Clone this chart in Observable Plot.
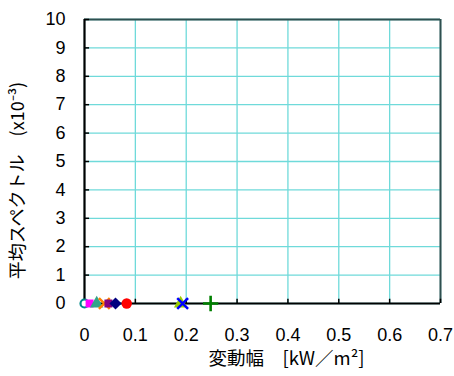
<!DOCTYPE html>
<html>
<head>
<meta charset="utf-8">
<script src="https://cdn.jsdelivr.net/npm/d3@7"></script>
<script src="https://cdn.jsdelivr.net/npm/@observablehq/plot@0.6"></script>
<style>
  html, body { margin: 0; padding: 0; background: #fff; }
  svg { display: block; }
</style>
</head>
<body>
<div id="chart"></div>
<script>
// ---- data ----
const seriesNames = ["S1", "S2", "S3", "S4", "S5", "S6", "S7", "S8", "S9", "S10"];
const xValues = [0.0, 0.010, 0.024, 0.039, 0.047, 0.061, 0.083, 0.189, 0.193, 0.248];
const yValues = [0, 0, 0, 0, 0, 0, 0, 0, 0, 0];
const xTicks = [0, 0.1, 0.2, 0.3, 0.4, 0.5, 0.6, 0.7];
const yTicks = [0, 1, 2, 3, 4, 5, 6, 7, 8, 9, 10];
const xTitle = "変動幅　[kW／m²]";
const yTitle = "平均スペクトル　(x10⁻³)";

// ---- marker styles ----
const markerStyles = {
  S1: {symbol: "circle", fill: "white", stroke: "#008B8B", sw: 2.2, r: 4},
  S2: {symbol: "square", fill: "#FF00FF", stroke: "none", sw: 0, r: 4.5},
  S3: {symbol: "triangle", fill: "#33A38A", stroke: "none", sw: 0, r: 5},
  S4: {symbol: "times", fill: "none", stroke: "#FF8000", sw: 2.5, r: 5},
  S5: {symbol: "square", fill: "#800080", stroke: "none", sw: 0, r: 4.5},
  S6: {symbol: "diamond2", fill: "#000080", stroke: "none", sw: 0, r: 5.5},
  S7: {symbol: "circle", fill: "#FF0000", stroke: "none", sw: 0, r: 5.2},
  S8: {symbol: "triangle", fill: "#99CC00", stroke: "none", sw: 0, r: 5},
  S9: {symbol: "times", fill: "none", stroke: "#0000FF", sw: 2.5, r: 5},
  S10: {symbol: "plus", fill: "none", stroke: "#008000", sw: 2.6, r: 5}
};

const points = seriesNames.map((s, i) => ({series: s, x: xValues[i], y: yValues[i]}));

const gridColor = "#6FDADA";
const numFont = "Liberation Sans, Arial, sans-serif";
const cjkFont = "Noto Sans CJK JP, sans-serif";

const chart = Plot.plot({
  width: 454,
  height: 376,
  marginLeft: 84,
  marginRight: 14,
  marginTop: 19,
  marginBottom: 73,
  style: {fontFamily: numFont, background: "white", overflow: "visible"},
  x: {domain: [0, 0.7], ticks: xTicks},
  y: {domain: [0, 10], ticks: yTicks},
  marks: [
    Plot.gridX(xTicks, {stroke: gridColor, strokeOpacity: 1, strokeWidth: 1.3}),
    Plot.gridY(yTicks, {stroke: gridColor, strokeOpacity: 1, strokeWidth: 1.3}),
    Plot.ruleX([0.7], {stroke: "#2F4F4F", strokeWidth: 2}),
    Plot.ruleY([10], {stroke: "#2F4F4F", strokeWidth: 2}),
    Plot.ruleY(yTicks, {y: d => d, x1: 0, x2: 0.01, stroke: "black", strokeWidth: 1.5}),
    Plot.ruleX(xTicks, {x: d => d, y1: 0, y2: 0.15, stroke: "black", strokeWidth: 1.5}),
    Plot.ruleX([0], {stroke: "black", strokeWidth: 2.2}),
    Plot.ruleY([0], {stroke: "black", strokeWidth: 2.2}),
    Plot.axisX(xTicks, {tickSize: 0, tickPadding: 25, fontSize: 18, tickFormat: d => String(d), label: null, fill: "black"}),
    Plot.axisY(yTicks, {tickSize: 0, tickPadding: 19, fontSize: 18, tickFormat: d => String(d), label: null, fill: "black"}),
    ...points.map(p => {
      const st = markerStyles[p.series];
      return Plot.dot([p], {
        x: "x", y: "y",
        symbol: () => st.symbol,
        r: st.r,
        fill: st.fill,
        stroke: st.stroke,
        strokeWidth: st.sw
      });
    }),
    Plot.text([xTitle], {frameAnchor: "bottom", textAnchor: "middle", dx: 24, dy: 61, fontSize: 18.5, fontFamily: cjkFont, fill: "black"}),
    Plot.text([yTitle], {frameAnchor: "left", textAnchor: "middle", dx: -66, dy: 19, rotate: -90, fontSize: 18, fontFamily: cjkFont, fill: "black"})
  ]
});
document.getElementById("chart").appendChild(chart);
</script>
</body>
</html>
